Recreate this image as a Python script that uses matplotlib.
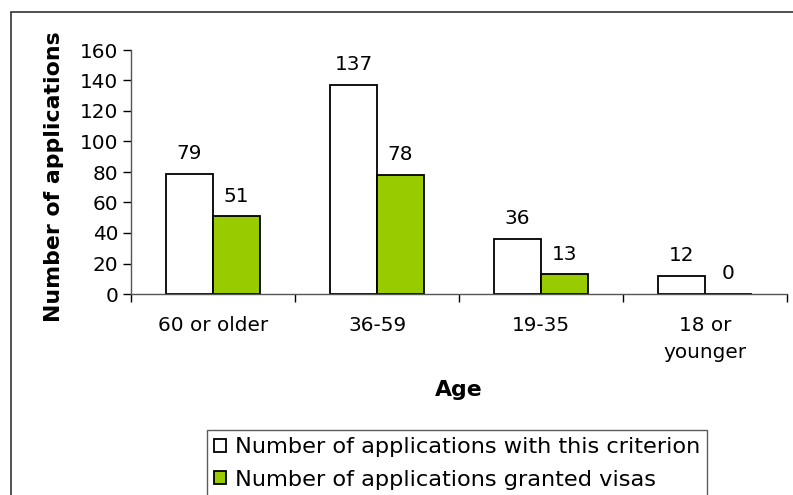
import matplotlib
matplotlib.use("Agg")
import matplotlib.pyplot as plt
from matplotlib.patches import Rectangle, Patch
import numpy as np

categories = ["60 or older", "36-59", "19-35", "18 or\nyounger"]
applications = [79, 137, 36, 12]
granted = [51, 78, 13, 0]
series_names = ["Number of applications with this criterion",
                "Number of applications granted visas"]
yticks = [0, 20, 40, 60, 80, 100, 120, 140, 160]

W, H = 793, 495
fig = plt.figure(figsize=(W / 100, H / 100), dpi=100)
plt.rcParams["font.family"] = ["DejaVu Sans"]

# outer chart frame (extends past the right and bottom edges)
fig.patches.append(Rectangle((11 / W, -0.1), 1.2, 1 - 12 / H + 0.1,
                             transform=fig.transFigure, fill=False,
                             edgecolor="#333333", linewidth=1.2))

ax = fig.add_axes([131 / W, 1 - 294 / H, (787 - 131) / W, (294 - 50) / H])
x = np.arange(len(categories))
w = 0.287
ax.bar(x - w / 2, applications, w, color="white", edgecolor="black", linewidth=1.3)
ax.bar(x + w / 2, granted, w, color="#99CC00", edgecolor="black", linewidth=1.3)

fs = 14.4
for xi, v in zip(x - w / 2, applications):
    ax.text(xi, v + 7, str(v), ha="center", va="bottom", fontsize=fs)
for xi, v in zip(x + w / 2, granted):
    ax.text(xi, v + 7, str(v), ha="center", va="bottom", fontsize=fs)

ax.set_xlim(-0.5, len(categories) - 0.5)
ax.set_ylim(0, 160)
ax.set_yticks(yticks)
ax.tick_params(axis="y", labelsize=fs, length=6, width=1, direction="out", pad=3)
ax.set_xticks(x)
ax.set_xticklabels(categories, fontsize=fs, linespacing=1.5)
ax.tick_params(axis="x", which="major", length=0, pad=16)
ax.set_xticks(np.arange(len(categories) + 1) - 0.5, minor=True)
ax.tick_params(axis="x", which="minor", length=6, width=1, direction="out")

for s in ["top", "right"]:
    ax.spines[s].set_visible(False)
for s in ["left", "bottom"]:
    ax.spines[s].set_color("#555555")
    ax.spines[s].set_linewidth(1)

fig.text(54 / W, 1 - 177 / H, "Number of applications", rotation=90,
         ha="center", va="center", fontsize=15.8, fontweight="bold")
fig.text(459 / W, 1 - 390 / H, "Age", ha="center", va="center",
         fontsize=15.8, fontweight="bold")

handles = [Patch(facecolor="white", edgecolor="black", linewidth=1.3),
           Patch(facecolor="#99CC00", edgecolor="black", linewidth=1.3)]
leg = fig.legend(handles, series_names, loc="upper left",
                 bbox_to_anchor=(207 / W, 1 - 430 / H), fontsize=16.2,
                 frameon=True, fancybox=False, handlelength=0.5,
                 handleheight=0.5, handletextpad=0.4, borderpad=0.33,
                 labelspacing=0.55, borderaxespad=0)
leg.get_frame().set_edgecolor("#333333")
leg.get_frame().set_linewidth(1)

fig.savefig("out.png", dpi=100)
